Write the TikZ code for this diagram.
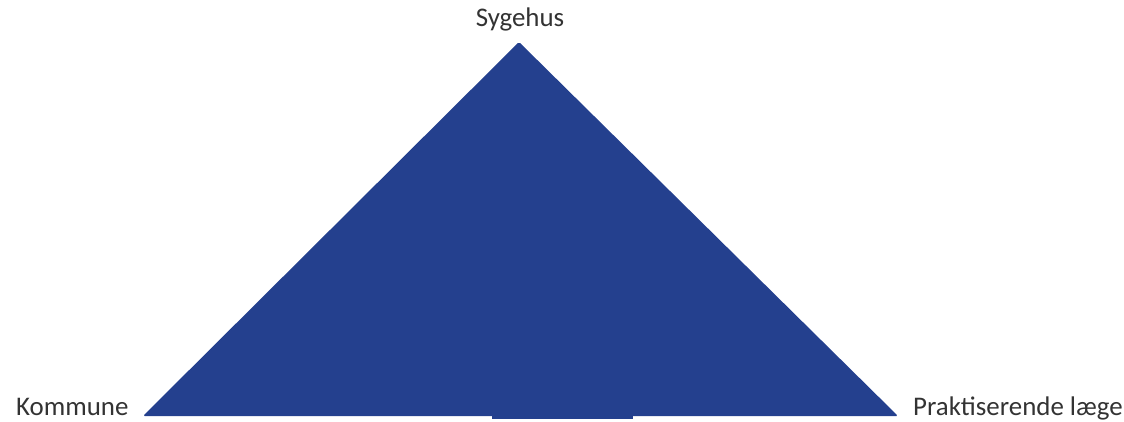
\documentclass[tikz,border=0pt]{standalone}
\usepackage{fontspec}
\setmainfont{Carlito}
\definecolor{triblue}{RGB}{36,64,142}
\begin{document}
\begin{tikzpicture}[x=1pt,y=-1pt,
  lbl/.style={inner sep=0pt, font=\fontsize{26.9}{30}\selectfont, text=black!80}]
\useasboundingbox (0,0) rectangle (1124,422);
\coordinate (apex) at (519,42);
\coordinate (bl) at (143,416);
\coordinate (br) at (898,416);
\fill[triblue, rounded corners=1.5pt] (bl) -- (apex) -- (br) -- cycle;
\fill[triblue] (492,414) rectangle (633,418.5);
\node[lbl, anchor=base] (syg) at (520,26.5) {Sygehus};
\node[lbl, anchor=base west] (kom) at (16,415.5) {Kommune};
\node[lbl, anchor=base west] (prak) at (913,415.5) {Praktiserende læge};
\end{tikzpicture}
\end{document}
